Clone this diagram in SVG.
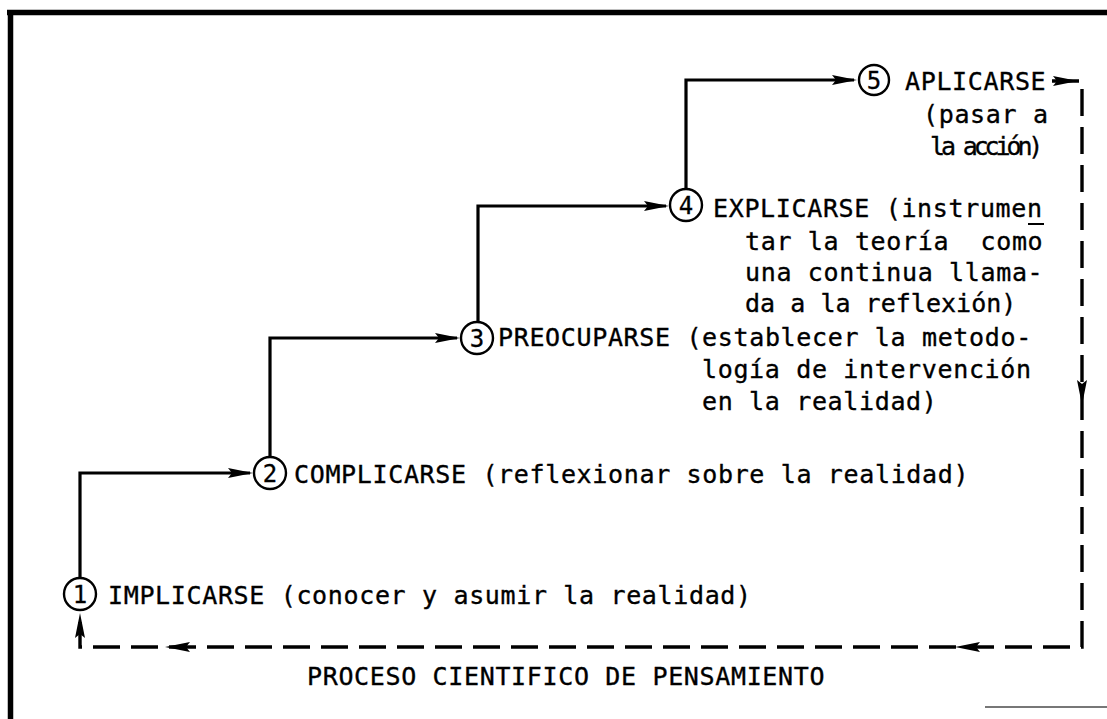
<svg xmlns="http://www.w3.org/2000/svg" width="1107" height="719" viewBox="0 0 1107 719">
<style>
.t{font-family:"DejaVu Sans Mono","Liberation Mono",monospace;font-size:25px;letter-spacing:0.65px;fill:#000;stroke:#000;stroke-width:0.35}
.n{font-family:"DejaVu Sans Mono","Liberation Mono",monospace;font-size:24px;text-anchor:middle;fill:#000;stroke:#000;stroke-width:0.3}
.c{fill:none;stroke:#000;stroke-width:2.4}
.solid{fill:none;stroke:#000;stroke-width:3.2;marker-end:url(#arr)}
.dash{fill:none;stroke:#000;stroke-width:3.4;stroke-dasharray:27 11}
.frame{fill:none;stroke:#000;stroke-width:5.5}
</style>
<defs>
  <marker id="arr" markerUnits="userSpaceOnUse" markerWidth="32" markerHeight="14" viewBox="-27 -7 32 14" refX="-3" refY="0" orient="auto">
    <path d="M0,0 L-25,-5 L-21,0 L-25,5 Z" fill="#000"/>
  </marker>
  <path id="ah" d="M0,0 L-25,-5 L-21,0 L-25,5 Z" fill="#000"/>
</defs>
<rect width="1107" height="719" fill="#fff"/>

<!-- outer frame (top and left edges) -->
<path class="frame" d="M7,12.5 H1107 M10.5,10 V719"/>
<path d="M985,707 H1107" stroke="#777" stroke-width="2" fill="none"/>

<!-- connectors -->
<g id="connectors">
  <path class="solid" d="M80,578 V473 H250"/>
  <path class="solid" d="M270,457 V338 H457"/>
  <path class="solid" d="M478,322 V206 H666"/>
  <path class="solid" d="M686,189 V80 H854"/>
  <path class="dash" d="M1052,81 H1082 V647 H80 V614"/>
  <use href="#ah" transform="translate(1078,81)"/>
  <use href="#ah" transform="translate(1082,405) rotate(90)"/>
  <use href="#ah" transform="translate(955,647) rotate(180)"/>
  <use href="#ah" transform="translate(165,647) rotate(180)"/>
  <use href="#ah" transform="translate(80,613) rotate(-90)"/>
</g>

<!-- step 1 -->
<g id="step1">
  <circle class="c" cx="80" cy="594" r="16"/>
  <text class="n" x="80" y="602.5">1</text>
  <text class="t" x="108" y="604">IMPLICARSE (conocer y asumir la realidad)</text>
</g>

<!-- step 2 -->
<g id="step2">
  <circle class="c" cx="270" cy="473" r="16"/>
  <text class="n" x="270" y="481.5">2</text>
  <text class="t" x="294" y="483">COMPLICARSE (reflexionar sobre la realidad)</text>
</g>

<!-- step 3 -->
<g id="step3">
  <circle class="c" cx="477" cy="338" r="16"/>
  <text class="n" x="477" y="346.5">3</text>
  <text class="t" x="498" y="346">PREOCUPARSE (establecer la metodo-</text>
  <text class="t" x="702" y="378">logía de intervención</text>
  <text class="t" x="702" y="410">en la realidad)</text>
</g>

<!-- step 4 -->
<g id="step4">
  <circle class="c" cx="686" cy="205" r="16"/>
  <text class="n" x="686" y="213.5">4</text>
  <text class="t" x="713" y="217">EXPLICARSE (instrumen</text>
  <path d="M1028,224 H1044" stroke="#000" stroke-width="2"/>
  <text class="t" x="745" y="250" xml:space="preserve">tar la teoría  como</text>
  <text class="t" x="745" y="281">una continua llama-</text>
  <text class="t" x="745" y="312" textLength="272" lengthAdjust="spacing">da a la reflexión)</text>
</g>

<!-- step 5 -->
<g id="step5">
  <circle class="c" cx="874" cy="80" r="15"/>
  <text class="n" x="874" y="88.5">5</text>
  <text class="t" x="905" y="90">APLICARSE</text>
  <text class="t" x="923" y="123">(pasar a</text>
  <text class="t" x="930" y="155" textLength="114" lengthAdjust="spacing">la acción)</text>
</g>

<!-- caption -->
<g id="title">
  <text class="t" x="307" y="685">PROCESO CIENTIFICO DE PENSAMIENTO</text>
</g>
</svg>
